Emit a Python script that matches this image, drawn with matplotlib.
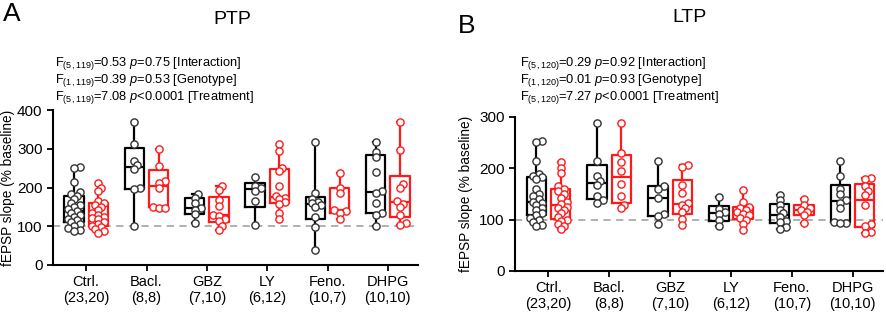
import numpy as np
import matplotlib
matplotlib.use('Agg')
import matplotlib.pyplot as plt

plt.rcParams['font.family'] = ['Liberation Sans', 'DejaVu Sans']
plt.rcParams['mathtext.fontset'] = 'custom'
plt.rcParams['mathtext.rm'] = 'Liberation Sans'
plt.rcParams['mathtext.it'] = 'Liberation Sans:italic'

groups = ['Ctrl.', 'Bacl.', 'GBZ', 'LY', 'Feno.', 'DHPG']
group_n = ['(23,20)', '(8,8)', '(7,10)', '(6,12)', '(10,7)', '(10,10)']

# PTP, % baseline (black = WT, red = KO)
ptp_wt = [
    [253, 250, 213, 188, 182, 178, 170, 160, 155, 150, 145, 140, 135, 130, 125, 120, 115, 110, 105, 100, 95, 90, 88],
    [368, 312, 268, 258, 248, 200, 195, 100],
    [182, 172, 161, 146, 142, 131, 108],
    [228, 205, 198, 192, 165, 103],
    [318, 187, 170, 163, 159, 155, 149, 125, 97, 39],
    [318, 292, 280, 240, 192, 185, 160, 135, 130, 100],
]
ptp_ko = [
    [212, 200, 190, 165, 160, 155, 150, 142, 135, 130, 125, 122, 118, 112, 105, 100, 98, 92, 88, 82],
    [300, 255, 218, 212, 198, 150, 148, 148],
    [204, 194, 168, 152, 130, 126, 120, 113, 100, 90],
    [313, 295, 250, 242, 205, 178, 174, 170, 163, 158, 135, 118],
    [238, 200, 185, 142, 140, 135, 118],
    [370, 297, 208, 200, 165, 158, 150, 130, 108, 103],
]
# LTP, % baseline
ltp_wt = [
    [253, 250, 213, 188, 185, 182, 178, 160, 150, 145, 140, 135, 132, 128, 122, 118, 112, 108, 103, 100, 95, 90, 88],
    [287, 213, 185, 175, 168, 145, 138, 133],
    [214, 165, 160, 141, 110, 106, 92],
    [143, 120, 115, 110, 100, 88],
    [148, 138, 128, 118, 112, 105, 98, 95, 85, 82],
    [213, 185, 160, 150, 138, 133, 122, 96, 94, 93],
]
ltp_ko = [
    [212, 200, 190, 165, 160, 155, 150, 142, 135, 130, 125, 122, 118, 112, 105, 100, 98, 92, 88, 82],
    [287, 230, 212, 195, 170, 145, 128, 122],
    [206, 203, 168, 152, 133, 128, 122, 115, 102, 89],
    [158, 135, 125, 122, 118, 114, 110, 108, 104, 100, 92, 80],
    [140, 128, 122, 118, 114, 108, 93],
    [181, 178, 165, 155, 148, 128, 92, 88, 75, 74],
]

ptp_stats = [r'F$_{(5,119)}$=0.53 $\it{p}$=0.75 [Interaction]',
             r'F$_{(1,119)}$=0.39 $\it{p}$=0.53 [Genotype]',
             r'F$_{(5,119)}$=7.08 $\it{p}$<0.0001 [Treatment]']
ltp_stats = [r'F$_{(5,120)}$=0.29 $\it{p}$=0.92 [Interaction]',
             r'F$_{(1,120)}$=0.01 $\it{p}$=0.93 [Genotype]',
             r'F$_{(5,120)}$=7.27 $\it{p}$<0.0001 [Treatment]']

RED = '#ff1a1a'
OFF = 0.2
BW = 0.32


def box_stats(vals):
    v = np.asarray(vals, float)
    q1, med, q3 = np.percentile(v, [25, 50, 75], method='weibull')
    return dict(med=med, q1=q1, q3=q3, whislo=v.min(), whishi=v.max(), fliers=[])


def swarm(vals, center, px_x, px_y, diam, maxoff):
    # simple deterministic beeswarm, in pixels, points allowed to overlap
    vals = np.asarray(vals, float)
    xs = np.zeros(len(vals))
    placed = []
    step = 3.0
    cands = [0.0]
    k = 1
    while k * step <= maxoff:
        cands += [k * step, -k * step]
        k += 1
    for i in np.argsort(vals):
        y = vals[i] * px_y
        best, bestd = 0.0, -1
        for c in cands:
            d = min([np.hypot(c - xo, y - yo) for xo, yo in placed] + [1e9])
            if d >= diam * 0.6:
                best = c
                break
            if d > bestd:
                best, bestd = c, d
        placed.append((best, y))
        xs[i] = center + best / px_x
    return xs


def draw_panel(ax, wt, ko, ymax, px_x, px_y):
    for i in range(len(groups)):
        for vals, off, col, pcol in [(wt[i], -OFF, 'black', '#333333'), (ko[i], OFF, RED, RED)]:
            pos = i + off
            ax.bxp([box_stats(vals)], positions=[pos], widths=BW, showfliers=False,
                   boxprops=dict(color=col, lw=1.6), whiskerprops=dict(color=col, lw=1.6),
                   capprops=dict(color=col, lw=1.6), medianprops=dict(color=col, lw=1.6),
                   capwidths=0.08)
            xs = swarm(vals, pos, px_x, px_y, 7, 6)
            ax.plot(xs, vals, 'o', ls='none', ms=5.2, mfc='white', mec=pcol, mew=1.0, zorder=5)
    ax.axhline(100, color='#aaaaaa', ls=(0, (4, 3)), lw=1.3, zorder=1)
    ax.set_xlim(-0.55, 5.5)
    ax.set_ylim(0, ymax)
    ax.set_yticks(np.arange(0, ymax + 1, 100))
    ax.set_xticks(range(len(groups)))
    ax.set_xticklabels([g + '\n' + n for g, n in zip(groups, group_n)], fontsize=10.5, linespacing=1.2)
    ax.tick_params(axis='y', labelsize=11, length=4, width=1.3)
    ax.tick_params(axis='x', length=4, width=1.3, pad=3)
    for s in ['top', 'right']:
        ax.spines[s].set_visible(False)
    for s in ['left', 'bottom']:
        ax.spines[s].set_linewidth(1.5)
    ax.set_ylabel('fEPSP slope (% baseline)', fontsize=9.8)


fig = plt.figure(figsize=(8.86, 3.14), dpi=100)
axA = fig.add_axes([53 / 886, 49 / 314, 365 / 886, 155 / 314])
axB = fig.add_axes([515 / 886, 43 / 314, 368 / 886, 154.3 / 314])

draw_panel(axA, ptp_wt, ptp_ko, 400, 365 / 6.05, 155 / 400)
draw_panel(axB, ltp_wt, ltp_ko, 300, 368 / 6.05, 154.3 / 300)
axA.yaxis.set_label_coords(-0.103, 0.5)
axB.yaxis.set_label_coords(-0.115, 0.5)

fig.text(3 / 886, 1 - 2 / 314, 'A', fontsize=19, va='top', ha='left')
fig.text(458 / 886, 1 - 14 / 314, 'B', fontsize=19, va='top', ha='left')
fig.text(232 / 886, 1 - 20 / 314, 'PTP', fontsize=14, va='center', ha='center')
fig.text(690 / 886, 1 - 18 / 314, 'LTP', fontsize=14, va='center', ha='center')
for k, (sa, sb) in enumerate(zip(ptp_stats, ltp_stats)):
    yy = 1 - (64 + 16.5 * k) / 314
    fig.text(55 / 886, yy, sa, fontsize=9.3, va='center', ha='left')
    fig.text(520 / 886, yy, sb, fontsize=9.3, va='center', ha='left')

fig.savefig('out.png', dpi=100)
